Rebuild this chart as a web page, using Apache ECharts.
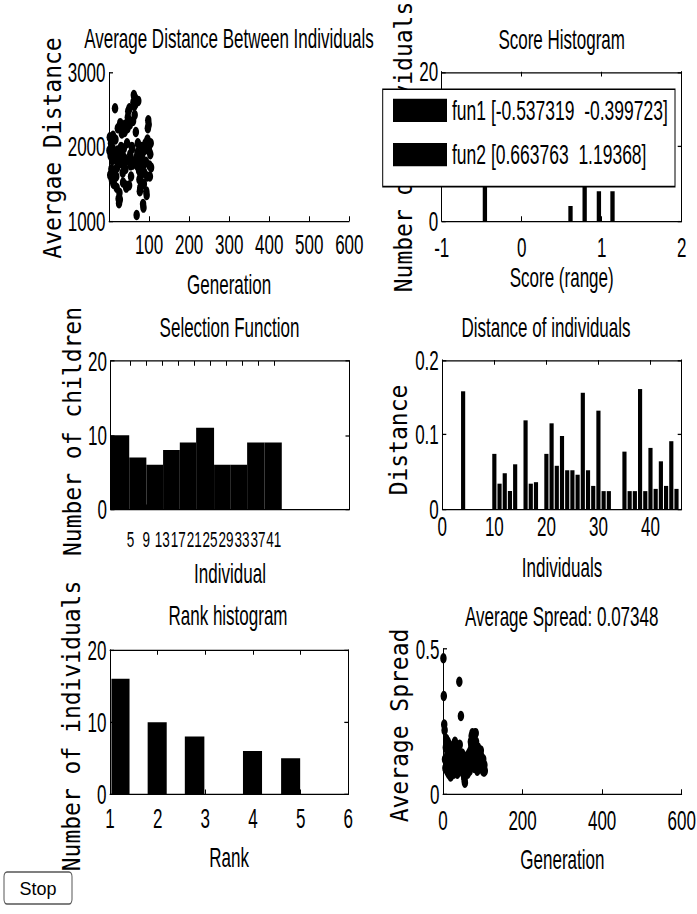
<!DOCTYPE html>
<html><head><meta charset="utf-8">
<script src="https://cdn.jsdelivr.net/npm/echarts@6/dist/echarts.min.js"></script>
<style>
html,body{margin:0;padding:0;background:#fff;overflow:hidden;}
#wrap{width:697px;height:914px;overflow:hidden;position:relative;background:#fff;}
#chart{width:697px;height:571.25px;transform:scaleY(1.6);transform-origin:0 0;}
svg text{white-space:pre;}
</style></head><body>
<div id="wrap"><div id="chart"></div></div>
<script>
// ---------------- data ----------------
const generationDistance = [
 1950, 2130, 1620, 1880, 2050, 1700, 1560, 1820, 1980, 2150,
 1510, 1500, 1680, 1900, 2520, 2100, 1830, 1600, 1450, 1720,
 1950, 2250, 1850, 1300, 1240, 1380, 1290, 2320, 1780, 2000,
 2280, 2180, 1900, 1650, 1520, 1760, 1980, 1850, 2200, 2300,
 1700, 1480, 1450, 1820, 2050, 2250, 2400, 2480, 2350, 1480,
 2520, 2300, 1900, 1750, 1600, 1820, 2000, 1980, 1760, 2350,
 2600, 2700, 2550, 2430, 2660, 2580, 2200, 1850, 1080, 1750,
 1920, 2050, 2620, 1800, 1680, 1560, 1400, 1450, 1600, 1700,
 1850, 2000, 1900, 1750, 1230, 1180, 1500, 1650, 1780, 1960,
 2050, 1800, 1400, 1350, 1600, 2100, 2250, 2360, 2300, 1950,
 1750, 1600, 1900, 2050, 1720
];
const generationSpread = [
 0.468, 0.338, 0.24, 0.22, 0.12, 0.09, 0.16, 0.19, 0.11, 0.08,
 0.14, 0.18, 0.10, 0.07, 0.13, 0.17, 0.12, 0.09, 0.06, 0.11,
 0.15, 0.13, 0.08, 0.10, 0.16, 0.12, 0.07, 0.09, 0.14, 0.18,
 0.11, 0.08, 0.13, 0.16, 0.10, 0.07, 0.12, 0.15, 0.09, 0.11,
 0.387, 0.17, 0.13, 0.10, 0.269, 0.08, 0.12, 0.14, 0.09, 0.11,
 0.07, 0.10, 0.06, 0.05, 0.039, 0.09, 0.12, 0.08, 0.11, 0.13,
 0.10, 0.07, 0.09, 0.12, 0.14, 0.10, 0.08, 0.11, 0.15, 0.18,
 0.17, 0.20, 0.19, 0.21, 0.20, 0.16, 0.13, 0.11, 0.09, 0.12,
 0.209, 0.21, 0.18, 0.14, 0.10, 0.08, 0.12, 0.16, 0.13, 0.09,
 0.11, 0.14, 0.12, 0.10, 0.15, 0.13, 0.09, 0.11, 0.10, 0.08,
 0.12, 0.09, 0.077, 0.10, 0.08
];
const scoreFun1Centers = [-0.46];
const scoreFun1Counts = [14];
const scoreFun2Centers = [0.61, 0.787, 0.965, 1.135];
const scoreFun2Counts = [2, 12, 4, 4];
const legendLabels = ['fun1 [-0.537319  -0.399723]', 'fun2 [0.663763  1.19368]'];
const selectionEdges = [0.1, 4.7, 9.0, 13.2, 17.4, 21.5, 26.0, 30.2, 34.3, 38.7, 43.0];
const selectionCounts = [10, 7, 6, 8, 9, 11, 6, 6, 9, 9];
const selectionTicks = [5, 9, 13, 17, 21, 25, 29, 33, 37, 41];
const individualDistance = [
 0, 0, 0, 0.158, 0, 0, 0, 0, 0, 0.074,
 0.034, 0.048, 0.024, 0.060, 0, 0.119, 0.034, 0.036, 0, 0.074,
 0.115, 0.058, 0.098, 0.052, 0.052, 0.046, 0.156, 0.052, 0.031, 0.132,
 0.024, 0.024, 0, 0, 0.077, 0.024, 0.024, 0.161, 0.024, 0.082,
 0.027, 0.064, 0.031, 0.091, 0.027
];
const rankLeft = [1.03, 1.79, 2.57, 3.79, 4.59];
const rankRight = [1.41, 2.19, 2.98, 4.19, 4.99];
const rankCounts = [16, 10, 8, 6, 5];
const titles = ['Average Distance Between Individuals', 'Score Histogram', 'Selection Function',
  'Distance of individuals', 'Rank histogram', 'Average Spread: 0.07348'];
const xNames = ['Generation', 'Score (range)', 'Individual', 'Individuals', 'Rank', 'Generation'];
const yNames = ['Avergae Distance', 'Number of individuals', 'Number of children', 'Distance',
  'Number of individuals', 'Average Spread'];

// ---------------- layout ----------------
const S = 1.6;
const FONT = '"Liberation Sans", Arial, Helvetica, sans-serif';
const MONO = '"DejaVu Sans Mono", "Liberation Mono", monospace';
const FS = 17;
const grids = [
  {l: 109, t: 72.7, w: 240.3, h: 148.3},
  {l: 441.7, t: 71.7, w: 240, h: 149.3},
  {l: 110.5, t: 361, w: 239, h: 148.3},
  {l: 442.3, t: 360, w: 239.4, h: 149},
  {l: 110, t: 650, w: 238.3, h: 144.3},
  {l: 443, t: 649, w: 238.7, h: 145}
];
const axSpec = [
  {x: {min: 0, max: 600, interval: 100, showMin: false}, y: {min: 1000, max: 3000, interval: 1000}, box: false, lm: 5.9, ng: 30.9},
  {x: {min: -1, max: 2, interval: 1}, y: {min: 0, max: 20, interval: 10}, box: true, lm: 8, ng: 26.8},
  {x: {min: 0, max: 60, custom: selectionTicks}, y: {min: 0, max: 20, interval: 10}, box: true, lm: 12.1, ng: 31.3, lfs: 13.5},
  {x: {min: 0, max: 46, interval: 10, showMax: false}, y: {min: 0, max: 0.2, interval: 0.1}, box: true, lm: 2.5, ng: 28.1},
  {x: {min: 1, max: 6, interval: 1}, y: {min: 0, max: 20, interval: 10}, box: true, lm: 6.7, ng: 31.0},
  {x: {min: 0, max: 600, interval: 200}, y: {min: 0, max: 0.5, interval: 0.5}, box: false, lm: 8.0, ng: 32.1}
];
const titleCenters = [[229, 15.25], [561.7, 16.2], [229.5, 195.9], [546, 196.2], [228, 375.9], [561.7, 376.5]];
const yNamePos = [[52.5, 148], [404, 147], [72.5, 431.5], [398.5, 440], [72, 726], [400, 725.5]];

function labelStyle(extra) {
  return Object.assign({color: '#000', fontFamily: FONT, fontSize: FS, formatter: v => String(v)}, extra);
}
const xAxes = [], yAxes = [], xIdx = [], yIdx = [];
grids.forEach((g, i) => {
  const sp = axSpec[i];
  const positions = sp.box ? ['bottom', 'top'] : ['bottom'];
  positions.forEach(pos => {
    const bottom = pos === 'bottom';
    const a = {
      type: 'value', gridIndex: i, position: pos, min: sp.x.min, max: sp.x.max,
      axisLine: {show: true, onZero: false, lineStyle: {color: '#000', width: 0.8}},
      axisTick: {show: true, inside: true, length: 3, lineStyle: {color: '#000', width: 1}},
      axisLabel: bottom ? labelStyle({margin: sp.lm, hideOverlap: false, fontSize: sp.lfs || FS,
        showMinLabel: sp.x.showMin !== false, showMaxLabel: sp.x.showMax !== false}) : {show: false},
      splitLine: {show: false}
    };
    if (sp.x.interval) a.interval = sp.x.interval;
    if (sp.x.custom) {
      a.axisTick.customValues = sp.x.custom;
      if (bottom) a.axisLabel.customValues = sp.x.custom;
    }
    if (bottom) {
      a.name = xNames[i]; a.nameLocation = 'middle'; a.nameGap = sp.ng; a.nameMoveOverlap = false;
      a.nameTextStyle = {color: '#000', fontFamily: FONT, fontSize: FS};
      xIdx[i] = xAxes.length;
    }
    xAxes.push(a);
  });
  const ypos = sp.box ? ['left', 'right'] : ['left'];
  ypos.forEach(pos => {
    const left = pos === 'left';
    const a = {
      type: 'value', gridIndex: i, position: pos, min: sp.y.min, max: sp.y.max, interval: sp.y.interval,
      axisLine: {show: true, onZero: false, lineStyle: {color: '#000', width: 1}},
      axisTick: {show: true, inside: true, length: 4, lineStyle: {color: '#000', width: 0.8}},
      axisLabel: left ? labelStyle({margin: 3.5, showMinLabel: true, showMaxLabel: true}) : {show: false},
      splitLine: {show: false}
    };
    if (left) yIdx[i] = yAxes.length;
    yAxes.push(a);
  });
});

function blackBar(params, api) {
  const a = api.coord([api.value(0), api.value(2)]);
  const b = api.coord([api.value(1), 0]);
  return {type: 'rect', shape: {x: a[0], y: a[1], width: b[0] - a[0], height: b[1] - a[1]}, style: {fill: '#000'}};
}
function barSeries(i, data, name) {
  const s = {type: 'custom', xAxisIndex: xIdx[i], yAxisIndex: yIdx[i], renderItem: blackBar,
    encode: {x: [0, 1], y: 2}, data: data, itemStyle: {color: '#000'}, clip: true, silent: true};
  if (name) s.name = name;
  return s;
}
const HW = 0.027;
const series = [
  {type: 'scatter', xAxisIndex: xIdx[0], yAxisIndex: yIdx[0], symbol: 'circle', symbolSize: 6.5,
   itemStyle: {color: '#000', opacity: 1}, clip: false, silent: true,
   data: generationDistance.map((v, k) => [k + 1, v])},
  barSeries(1, scoreFun1Centers.map((c, k) => [c - HW, c + HW, scoreFun1Counts[k]]), legendLabels[0]),
  barSeries(1, scoreFun2Centers.map((c, k) => [c - HW, c + HW, scoreFun2Counts[k]]), legendLabels[1]),
  barSeries(2, selectionCounts.map((v, k) => [selectionEdges[k], selectionEdges[k + 1], v])),
  barSeries(3, individualDistance.map((v, k) => [k + 1 - 0.4, k + 1 + 0.4, v])),
  barSeries(4, rankCounts.map((v, k) => [rankLeft[k], rankRight[k], v])),
  {type: 'scatter', xAxisIndex: xIdx[5], yAxisIndex: yIdx[5], symbol: 'circle', symbolSize: 6.5,
   itemStyle: {color: '#000', opacity: 1}, clip: false, silent: true,
   data: generationSpread.map((v, k) => [k + 1, v])}
];

const graphic = yNames.map((t, i) => ({
  type: 'text', x: yNamePos[i][0], y: yNamePos[i][1] / S, rotation: Math.PI / 2,
  scaleX: 1 / S, scaleY: 1.1, z: 1, silent: true,
  style: {text: t, fontFamily: MONO, fontSize: 23, fill: '#000',
    textAlign: 'center', textVerticalAlign: 'middle', align: 'center', verticalAlign: 'middle'}
}));
graphic.push({type: 'rect', silent: true, z: 1,
  shape: {x: 4, y: 872 / S, width: 68, height: 32 / S, r: 3},
  style: {fill: '#fff', stroke: '#555', lineWidth: 1}});
graphic.push({type: 'text', x: 38, y: 888 / S, scaleY: 0.65, silent: true, z: 2,
  style: {text: 'Stop', fontFamily: FONT, fontSize: 18, fill: '#000',
    textAlign: 'center', textVerticalAlign: 'middle', align: 'center', verticalAlign: 'middle'}});

const option = {
  animation: false,
  backgroundColor: '#fff',
  title: titles.map((t, i) => ({
    text: t, left: titleCenters[i][0], top: titleCenters[i][1], textAlign: 'center', padding: 0,
    textStyle: {color: '#000', fontFamily: FONT, fontSize: FS, fontWeight: 'normal'}
  })),
  grid: grids.map(g => ({left: g.l, top: g.t / S, width: g.w, height: g.h / S,
    containLabel: false, outerBoundsMode: 'none'})),
  legend: {
    data: legendLabels, orient: 'vertical', left: 382.7, top: 89.3 / S,
    padding: [4.2, 7, 11, 10.3], itemGap: 9.6, itemWidth: 54, itemHeight: 14.6, icon: 'rect',
    backgroundColor: '#fff', borderColor: '#000', borderWidth: 1, borderRadius: 0,
    textStyle: {color: '#000', fontFamily: FONT, fontSize: 17.5}, selectedMode: false, z: 10
  },
  xAxis: xAxes,
  yAxis: yAxes,
  series: series,
  graphic: graphic
};
const chart = echarts.init(document.getElementById('chart'), null, {renderer: 'svg'});
chart.setOption(option);
</script></body></html>
